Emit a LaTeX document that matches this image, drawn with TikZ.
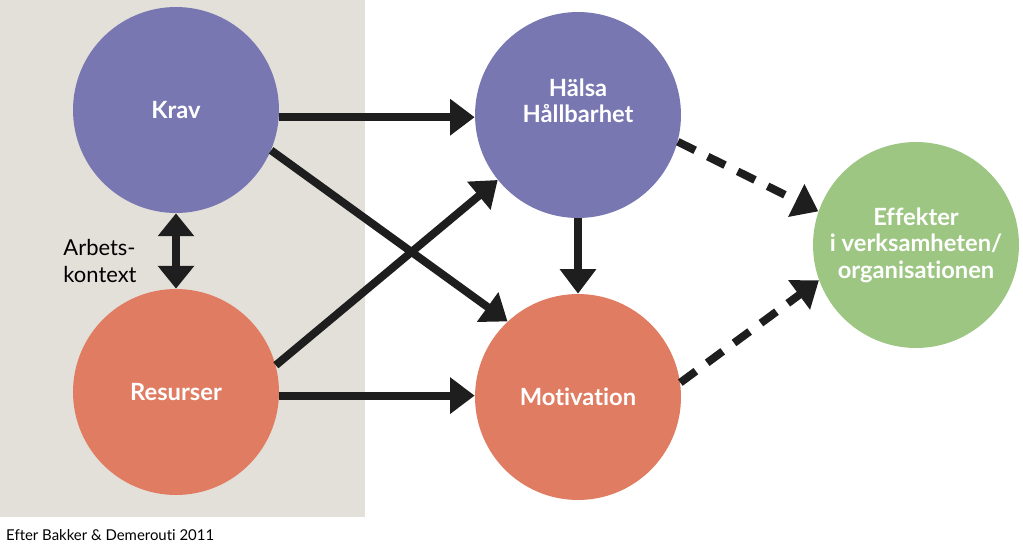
\documentclass[tikz,border=0pt]{standalone}
\usepackage{fontspec}
\setmainfont{Lato}[Ligatures=NoCommon]
\usetikzlibrary{arrows.meta}
\definecolor{kravblue}{RGB}{120,119,178}
\definecolor{resorange}{RGB}{224,124,98}
\definecolor{effgreen}{RGB}{157,198,130}
\definecolor{ctxgray}{RGB}{227,224,218}
\definecolor{arrowblack}{RGB}{30,30,30}
\begin{document}
\begin{tikzpicture}[x=0.02cm, y=-0.02cm,
  bubbletext/.style={text=white, align=center, font=\fontsize{13.5}{15}\selectfont\bfseries},
  bubble/.style={circle, minimum size=4.12cm, inner sep=0pt, bubbletext},
  edge/.style={line width=4.5pt, arrowblack, -{Triangle[length=14pt,width=20pt]}},
  dashedge/.style={edge, dash pattern=on 11pt off 8pt}]
  \useasboundingbox (0,0) rectangle (1023,551);
  % work context panel
  \fill[ctxgray] (0,0) rectangle (365,517);
  % circles
  \node[bubble, fill=kravblue] (krav) at (176,110) {Krav};
  \node[bubble, fill=resorange] (resurser) at (176,392) {Resurser};
  \node[bubble, fill=kravblue, label={[bubbletext, yshift=0.28cm]center:Hälsa\\Hållbarhet}] (halsa) at (578,115) {};
  \node[bubble, fill=resorange] (motivation) at (578,397) {Motivation};
  \node[bubble, fill=effgreen] (effekter) at (916,245) {Effekter\\i verksamheten/\\organisationen};
  \node[align=left, font=\fontsize{12.5}{15}\selectfont] (kontext) at (100,261) {Arbets-\\kontext};
  \node[anchor=west, font=\fontsize{8.5}{10}\selectfont] (kalla) at (0,535) {Efter Bakker \& Demerouti 2011};
  % arrows
  \draw[edge, {Triangle[length=13pt,width=20pt]}-{Triangle[length=13pt,width=20pt]}] (krav.south) -- (resurser.north);
  \draw[edge] (krav.-4) -- (krav.-4 -| halsa.west);
  \draw[edge] (krav.-23) -- (motivation.133);
  \draw[edge] (resurser.15) -- (halsa.-141);
  \draw[edge] (resurser.-2) -- (resurser.-2 -| motivation.west);
  \draw[edge] (halsa.south) -- (motivation.north);
  \draw[dashedge] (halsa.-15) -- (effekter.161);
  \draw[dashedge] (motivation.8) -- (effekter.-160);
\end{tikzpicture}
\end{document}
